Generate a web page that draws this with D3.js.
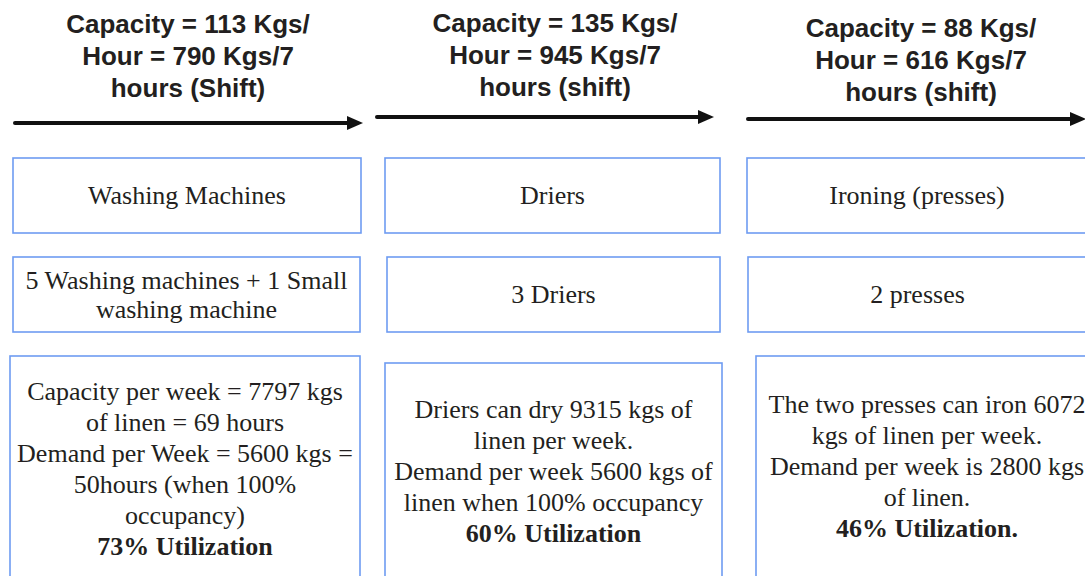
<!DOCTYPE html>
<html>
<head>
<meta charset="utf-8">
<script src="https://cdn.jsdelivr.net/npm/d3@7"></script>
<style>
  html, body { margin: 0; padding: 0; background: #fff; }
  svg { display: block; }
</style>
</head>
<body>
<script>
// ---- Data ----
const stages = ["Washing Machines", "Driers", "Ironing (presses)"];
const capacityTitles = [
  ["Capacity = 113 Kgs/", "Hour = 790 Kgs/7", "hours (Shift)"],
  ["Capacity = 135 Kgs/", "Hour = 945 Kgs/7", "hours (shift)"],
  ["Capacity = 88 Kgs/", "Hour = 616 Kgs/7", "hours (shift)"]
];
const equipment = [
  ["5 Washing machines + 1 Small", "washing machine"],
  ["3 Driers"],
  ["2 presses"]
];
const details = [
  ["Capacity per week = 7797 kgs", "of linen = 69 hours", "Demand per Week = 5600 kgs =", "50hours (when 100%", "occupancy)"],
  ["Driers can dry 9315 kgs of", "linen per week.", "Demand per week 5600 kgs of", "linen when 100% occupancy"],
  ["The two presses can iron 6072", "kgs of linen per week.", "Demand per week is 2800 kgs", "of linen."]
];
const utilization = ["73% Utilization", "60% Utilization", "46% Utilization."];

// ---- Layout ----
const W = 1085, H = 576;
const svg = d3.select("body").append("svg").attr("width", W).attr("height", H);

const layout = [
  { titleX: 188, titleY: 33, arrow: [15, 363, 123],
    box1: [13, 158, 361, 233], box2: [13, 257, 360, 332], box3: [10, 356, 360, 620], detY: 400 },
  { titleX: 555, titleY: 32, arrow: [377, 714, 117],
    box1: [385, 158, 720, 233], box2: [387, 257, 720, 332], box3: [385, 363, 722, 620], detY: 418 },
  { titleX: 921, titleY: 37, arrow: [748, 1086, 119],
    box1: [747, 158, 1087, 233], box2: [748, 257, 1087, 332], box3: [756, 356, 1098, 620], detY: 413 }
];

const serif = "'Liberation Serif', 'Times New Roman', Times, serif";
const sans = "'Liberation Sans', Arial, Helvetica, sans-serif";
const textColor = "#231f20";
const border = "#6e9cf2";

const cols = svg.selectAll("g.col").data(d3.range(stages.length)).join("g").attr("class", "col");

cols.each(function(i) {
  const g = d3.select(this);
  const L = layout[i];

  // title
  g.append("text")
    .attr("text-anchor", "middle")
    .attr("font-family", sans).attr("font-weight", "bold").attr("font-size", 26)
    .attr("fill", textColor)
    .selectAll("tspan").data(capacityTitles[i]).join("tspan")
    .attr("x", L.titleX)
    .attr("y", (d, k) => L.titleY + k * 32)
    .text(d => d);

  // arrow
  const [x0, x1, ay] = L.arrow;
  const headLen = 16, headHalf = 7;
  g.append("line")
    .attr("x1", x0).attr("x2", x1 - headLen + 2).attr("y1", ay).attr("y2", ay)
    .attr("stroke", "#111").attr("stroke-width", 4).attr("stroke-linecap", "round");
  g.append("path")
    .attr("d", `M${x1},${ay} L${x1 - headLen},${ay - headHalf} L${x1 - headLen},${ay + headHalf} Z`)
    .attr("fill", "#111");

  // boxes
  const drawBox = (b) => g.append("rect")
    .attr("x", b[0]).attr("y", b[1]).attr("width", b[2] - b[0]).attr("height", b[3] - b[1])
    .attr("fill", "#fff").attr("stroke", border).attr("stroke-width", 1.6);
  drawBox(L.box1); drawBox(L.box2); drawBox(L.box3);

  // box1 text
  const c1 = (L.box1[0] + L.box1[2]) / 2, m1 = (L.box1[1] + L.box1[3]) / 2;
  g.append("text")
    .attr("x", c1).attr("y", m1 + 8.5)
    .attr("text-anchor", "middle")
    .attr("font-family", serif).attr("font-size", 26).attr("fill", textColor)
    .text(stages[i]);

  // box2 text
  const c2 = (L.box2[0] + L.box2[2]) / 2, m2 = (L.box2[1] + L.box2[3]) / 2;
  const eq = equipment[i];
  const lh2 = 29;
  g.append("text")
    .attr("text-anchor", "middle")
    .attr("font-family", serif).attr("font-size", 26).attr("fill", textColor)
    .selectAll("tspan").data(eq).join("tspan")
    .attr("x", c2)
    .attr("y", (d, k) => m2 + 8.5 + (k - (eq.length - 1) / 2) * lh2)
    .text(d => d);

  // box3 text
  const c3 = (L.box3[0] + L.box3[2]) / 2;
  const lines = details[i].map(t => ({ t, b: false })).concat([{ t: utilization[i], b: true }]);
  g.append("text")
    .attr("text-anchor", "middle")
    .attr("font-family", serif).attr("font-size", 26).attr("fill", textColor)
    .selectAll("tspan").data(lines).join("tspan")
    .attr("x", c3)
    .attr("y", (d, k) => L.detY + k * 31)
    .attr("font-weight", d => d.b ? "bold" : "normal")
    .text(d => d.t);
});
</script>
</body>
</html>
